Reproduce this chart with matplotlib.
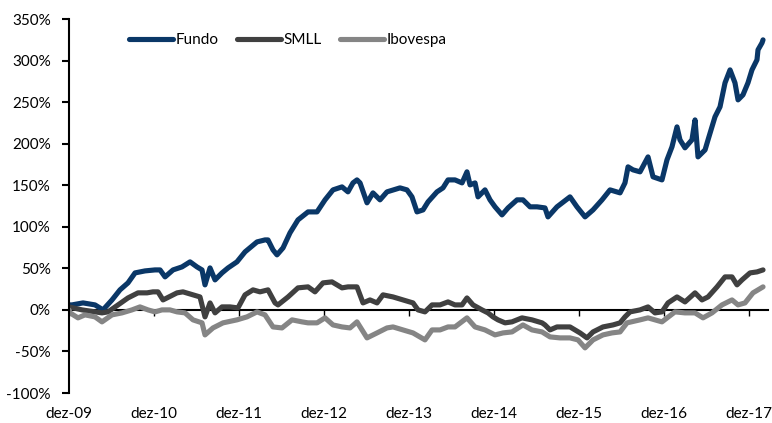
import matplotlib
matplotlib.use("Agg")
import matplotlib.pyplot as plt
from matplotlib.ticker import FuncFormatter

# decimal-year positions (dez-09 = 2009.917) and cumulative returns (%)
fundo_t = [2009.917, 2009.952, 2010.082, 2010.223, 2010.317, 2010.423, 2010.517, 2010.611, 2010.694,
           2010.811, 2010.929, 2010.988, 2011.047, 2011.141, 2011.246, 2011.341, 2011.423, 2011.482,
           2011.517, 2011.576, 2011.635, 2011.717, 2011.788, 2011.893, 2011.988, 2012.129, 2012.223,
           2012.258, 2012.317, 2012.364, 2012.435, 2012.517, 2012.611, 2012.729, 2012.835, 2012.929,
           2013.023, 2013.129, 2013.199, 2013.258, 2013.305, 2013.341, 2013.423, 2013.493, 2013.576,
           2013.658, 2013.811, 2013.893, 2013.952, 2014.011, 2014.082, 2014.141, 2014.246, 2014.317,
           2014.376, 2014.458, 2014.541, 2014.599, 2014.635, 2014.694, 2014.729, 2014.811, 2014.870,
           2014.929, 2015.011, 2015.082, 2015.188, 2015.258, 2015.341, 2015.423, 2015.517, 2015.552,
           2015.658, 2015.811, 2015.893, 2015.988, 2016.082, 2016.188, 2016.282, 2016.400, 2016.458,
           2016.494, 2016.552, 2016.635, 2016.729, 2016.788, 2016.893, 2016.952, 2017.011, 2017.070,
           2017.105, 2017.164, 2017.246, 2017.282, 2017.317, 2017.400, 2017.435, 2017.517, 2017.576,
           2017.635, 2017.694, 2017.752, 2017.788, 2017.846, 2017.905, 2017.952, 2018.011, 2018.023,
           2018.070, 2018.082]
fundo_v = [6.0, 6.0, 8.4, 6.0, 0.0, 12.0, 24.1, 32.5, 44.5,
           46.9, 48.1, 48.1, 39.7, 48.1, 51.7, 57.8, 51.7, 48.1,
           30.1, 50.5, 36.1, 44.5, 50.5, 57.8, 69.8, 81.8, 84.2,
           84.2, 72.2, 66.2, 74.6, 92.7, 108.3, 117.9, 117.9, 132.4,
           144.4, 148.0, 142.0, 152.8, 156.4, 152.8, 128.8, 140.8, 132.4,
           142.0, 146.8, 144.4, 136.0, 117.9, 120.3, 130.0, 142.0, 146.8,
           156.4, 156.4, 152.8, 166.1, 150.4, 152.8, 136.0, 144.4, 132.4,
           124.0, 114.3, 122.7, 132.4, 132.4, 124.0, 124.0, 122.7, 111.9,
           124.0, 136.0, 124.0, 111.9, 120.3, 132.4, 144.4, 140.8, 152.8,
           172.1, 168.5, 166.1, 184.1, 160.1, 156.4, 180.5, 196.2, 220.2,
           204.6, 195.0, 204.6, 228.6, 184.1, 192.5, 204.6, 232.3, 244.3,
           273.2, 288.8, 273.2, 252.7, 258.7, 273.2, 288.8, 300.9, 312.9,
           321.3, 324.9]

smll_t = [2009.917, 2010.070, 2010.305, 2010.376, 2010.494, 2010.611, 2010.729, 2010.835, 2010.905,
          2010.964, 2011.023, 2011.070, 2011.188, 2011.258, 2011.376, 2011.458, 2011.517, 2011.576,
          2011.635, 2011.717, 2011.811, 2011.905, 2011.988, 2012.082, 2012.164, 2012.258, 2012.341,
          2012.376, 2012.494, 2012.611, 2012.729, 2012.811, 2012.905, 2013.011, 2013.129, 2013.199,
          2013.305, 2013.376, 2013.458, 2013.541, 2013.611, 2013.729, 2013.846, 2013.964, 2014.023,
          2014.105, 2014.188, 2014.282, 2014.376, 2014.458, 2014.541, 2014.599, 2014.670, 2014.776,
          2014.846, 2014.905, 2014.964, 2015.047, 2015.129, 2015.246, 2015.364, 2015.482, 2015.517,
          2015.576, 2015.658, 2015.811, 2015.929, 2016.011, 2016.082, 2016.199, 2016.317, 2016.400,
          2016.458, 2016.517, 2016.635, 2016.729, 2016.811, 2016.893, 2016.964, 2017.070, 2017.164,
          2017.282, 2017.364, 2017.435, 2017.541, 2017.635, 2017.717, 2017.776, 2017.835, 2017.929,
          2018.011, 2018.082]
smll_v = [3.6, 0.0, -3.6, -2.4, 6.0, 14.4, 20.5, 20.5, 21.7,
          21.7, 12.0, 14.4, 20.5, 21.7, 18.1, 15.6, -8.4, 8.4,
          -3.6, 3.6, 3.6, 2.4, 18.1, 24.1, 21.7, 24.1, 8.4,
          6.0, 15.6, 26.5, 27.7, 21.7, 32.5, 33.7, 26.5, 27.7,
          27.7, 8.4, 12.0, 8.4, 18.1, 15.6, 12.0, 8.4, 0.0,
          -2.4, 6.0, 6.0, 9.6, 6.0, 6.0, 14.4, 6.0, 0.0,
          -3.6, -8.4, -12.0, -15.6, -14.4, -9.6, -12.0, -15.6, -18.1,
          -24.1, -20.5, -20.5, -27.7, -33.7, -26.5, -20.5, -18.1, -15.6,
          -8.4, -2.4, 0.0, 3.6, -3.6, -2.4, 8.4, 15.6, 9.6,
          20.5, 12.0, 15.6, 27.7, 39.7, 39.7, 30.1, 36.1, 44.5,
          45.7, 48.1]

ibov_t = [2009.917, 2009.929, 2010.023, 2010.105, 2010.223, 2010.305, 2010.423, 2010.541, 2010.658,
          2010.752, 2010.846, 2010.929, 2011.011, 2011.105, 2011.188, 2011.282, 2011.376, 2011.482,
          2011.517, 2011.611, 2011.729, 2011.893, 2012.011, 2012.129, 2012.223, 2012.317, 2012.423,
          2012.541, 2012.658, 2012.729, 2012.835, 2012.929, 2013.023, 2013.129, 2013.223, 2013.305,
          2013.423, 2013.541, 2013.658, 2013.729, 2013.846, 2013.964, 2014.105, 2014.188, 2014.282,
          2014.376, 2014.458, 2014.599, 2014.694, 2014.811, 2014.929, 2015.023, 2015.129, 2015.258,
          2015.364, 2015.482, 2015.576, 2015.694, 2015.811, 2015.905, 2015.988, 2016.082, 2016.199,
          2016.305, 2016.400, 2016.482, 2016.635, 2016.729, 2016.893, 2017.046, 2017.164, 2017.282,
          2017.376, 2017.482, 2017.599, 2017.717, 2017.788, 2017.870, 2017.964, 2018.023, 2018.082]
ibov_v = [0.0, -3.6, -9.6, -6.0, -8.4, -14.4, -6.0, -3.6, 0.0,
          3.6, 0.0, -2.4, 0.0, 0.0, -2.4, -3.6, -12.0, -15.6,
          -30.1, -21.7, -15.6, -12.0, -8.4, -2.4, -6.0, -20.5, -21.7,
          -12.0, -14.4, -15.6, -15.6, -9.6, -18.1, -20.5, -21.7, -14.4,
          -33.7, -27.7, -21.7, -20.5, -24.1, -27.7, -36.1, -24.1, -24.1,
          -20.5, -20.5, -9.6, -20.5, -24.1, -30.1, -27.7, -26.5, -18.1,
          -24.1, -26.5, -32.5, -33.7, -33.7, -36.1, -45.7, -36.1, -30.1,
          -27.7, -26.5, -15.6, -12.0, -9.6, -14.4, -2.4, -3.6, -3.6,
          -9.6, -3.6, 6.0, 12.0, 6.0, 8.4, 20.5, 24.1, 27.7]

series_names = ["Fundo", "SMLL", "Ibovespa"]
tick_years = [2009.917 + k for k in range(9)]
tick_labels = ["dez-09", "dez-10", "dez-11", "dez-12", "dez-13", "dez-14", "dez-15", "dez-16", "dez-17"]
y_ticks = list(range(-100, 351, 50))

plt.rcParams['font.family'] = ['Lato', 'DejaVu Sans']

fig = plt.figure(figsize=(7.72, 4.23), dpi=100)
ax = fig.add_axes([69/772, 1 - 393/423, (768 - 69)/772, (393 - 19)/423])

style = dict(lw=3.7, solid_joinstyle="round", solid_capstyle="round")
ax.plot(fundo_t, fundo_v, color="#0A3767", label=series_names[0], **style)
ax.plot(smll_t, smll_v, color="#404040", label=series_names[1], **style)
ax.plot(ibov_t, ibov_v, color="#858585", label=series_names[2], **style)

ax.set_xlim(2009.917, 2009.917 + (768 - 69) / 85)
ax.set_ylim(-100, 350)
ax.set_yticks(y_ticks)
ax.yaxis.set_major_formatter(FuncFormatter(lambda v, p: f"{int(v)}%"))

for s in ["top", "right"]:
    ax.spines[s].set_visible(False)
ax.spines["left"].set_linewidth(1.5)
ax.spines["bottom"].set_position(("data", 0))
ax.spines["bottom"].set_linewidth(1.5)
ax.spines["bottom"].set_zorder(1)

ax.set_xticks(tick_years)
ax.set_xticklabels(tick_labels)
ax.tick_params(axis="x", direction="out", length=4, width=1, pad=66, labelsize=11)
ax.tick_params(axis="y", direction="out", length=5, width=1.5, pad=8, labelsize=11)

leg = ax.legend(loc="center", bbox_to_anchor=(0.313, 0.944), ncol=3, frameon=False,
                fontsize=11, handlelength=2.9, handletextpad=0.15, columnspacing=1.2)

fig.savefig("out.png", dpi=100)
